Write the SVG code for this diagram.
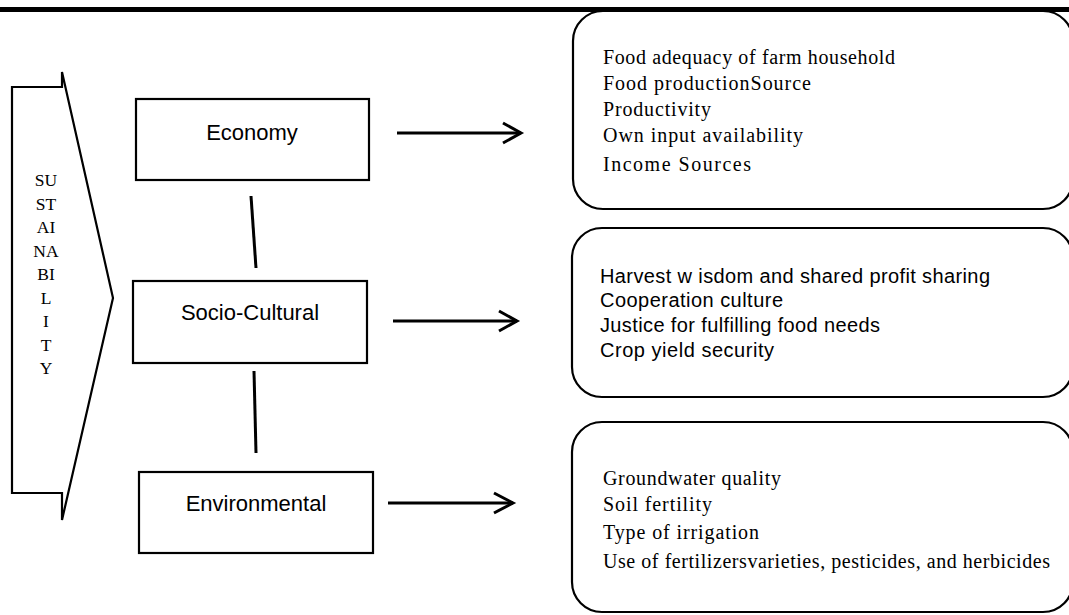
<svg xmlns="http://www.w3.org/2000/svg" width="1069" height="615" viewBox="0 0 1069 615">
<style>
.box{fill:#fff;stroke:#000;stroke-width:2.2}
.rbox{fill:#fff;stroke:#000;stroke-width:2.2}
.lbl{font-family:"Liberation Sans",Arial,sans-serif;font-size:22px;fill:#000;text-anchor:middle}
.serif{font-family:"Liberation Serif","Times New Roman",serif;font-size:20px;fill:#000}
.sans{font-family:"Liberation Sans",Arial,sans-serif;font-size:20px;fill:#000}
.vt{font-family:"Liberation Serif","Times New Roman",serif;font-size:17.5px;fill:#000;text-anchor:middle}
.con{stroke:#000;stroke-width:3;fill:none;stroke-linecap:butt}
</style>
<rect x="0" y="0" width="1069" height="615" fill="#fff"/>
<rect x="0" y="7" width="1069" height="5" fill="#000"/>

<g id="sustainability">
<path d="M12,87 L62,87 L62,72 L113,298 L62,520 L62,493 L12,493 Z" fill="#fff" stroke="#000" stroke-width="2.2" stroke-linejoin="miter"/>
<text class="vt" x="46" y="186">SU</text>
<text class="vt" x="46" y="209.5">ST</text>
<text class="vt" x="46" y="233">AI</text>
<text class="vt" x="46" y="256.5">NA</text>
<text class="vt" x="46" y="280">BI</text>
<text class="vt" x="46" y="303.5">L</text>
<text class="vt" x="46" y="327">I</text>
<text class="vt" x="46" y="350.5">T</text>
<text class="vt" x="46" y="374">Y</text>
</g>

<g id="economy">
<rect class="box" x="136" y="99" width="233" height="81"/>
<text class="lbl" x="252" y="140">Economy</text>
</g>
<g id="socio-cultural">
<rect class="box" x="133" y="281" width="234" height="82"/>
<text class="lbl" x="250" y="320">Socio-Cultural</text>
</g>
<g id="environmental">
<rect class="box" x="139" y="472" width="234" height="81"/>
<text class="lbl" x="256" y="511">Environmental</text>
</g>

<g id="economy-indicators">
<rect class="rbox" x="573" y="11" width="500" height="198" rx="30" ry="30"/>
<text class="serif" x="603" y="64" textLength="292" lengthAdjust="spacing">Food adequacy of farm household</text>
<text class="serif" x="603" y="90" textLength="208" lengthAdjust="spacing">Food productionSource</text>
<text class="serif" x="603" y="116" textLength="108" lengthAdjust="spacing">Productivity</text>
<text class="serif" x="603" y="142" textLength="200" lengthAdjust="spacing">Own input availability</text>
<text class="serif" x="603" y="171" textLength="148" lengthAdjust="spacing">Income Sources</text>
</g>

<g id="socio-cultural-indicators">
<rect class="rbox" x="572" y="228" width="501" height="169" rx="30" ry="30"/>
<text class="sans" x="600" y="283" textLength="390" lengthAdjust="spacing">Harvest w isdom and shared profit sharing</text>
<text class="sans" x="600" y="307" textLength="183" lengthAdjust="spacing">Cooperation culture</text>
<text class="sans" x="600" y="332" textLength="280" lengthAdjust="spacing">Justice for fulfilling food needs</text>
<text class="sans" x="600" y="357" textLength="174" lengthAdjust="spacing">Crop yield security</text>
</g>

<g id="environmental-indicators">
<rect class="rbox" x="572" y="422" width="501" height="190" rx="30" ry="30"/>
<text class="serif" x="603" y="485" textLength="178" lengthAdjust="spacing">Groundwater quality</text>
<text class="serif" x="603" y="511" textLength="109" lengthAdjust="spacing">Soil fertility</text>
<text class="serif" x="603" y="539" textLength="156" lengthAdjust="spacing">Type of irrigation</text>
<text class="serif" x="603" y="568" textLength="447" lengthAdjust="spacing">Use of fertilizersvarieties, pesticides, and herbicides</text>
</g>

<g id="connectors">
<line class="con" x1="251" y1="196" x2="256" y2="268"/>
<line class="con" x1="254" y1="371" x2="256" y2="453"/>
<line class="con" x1="397" y1="133" x2="521" y2="133"/>
<polyline class="con" points="503,123 521,133 503,143"/>
<line class="con" x1="393" y1="321" x2="517" y2="321"/>
<polyline class="con" points="499,311 517,321 499,331"/>
<line class="con" x1="388" y1="503" x2="513" y2="503"/>
<polyline class="con" points="494,493 513,503 494,513"/>
</g>
</svg>
